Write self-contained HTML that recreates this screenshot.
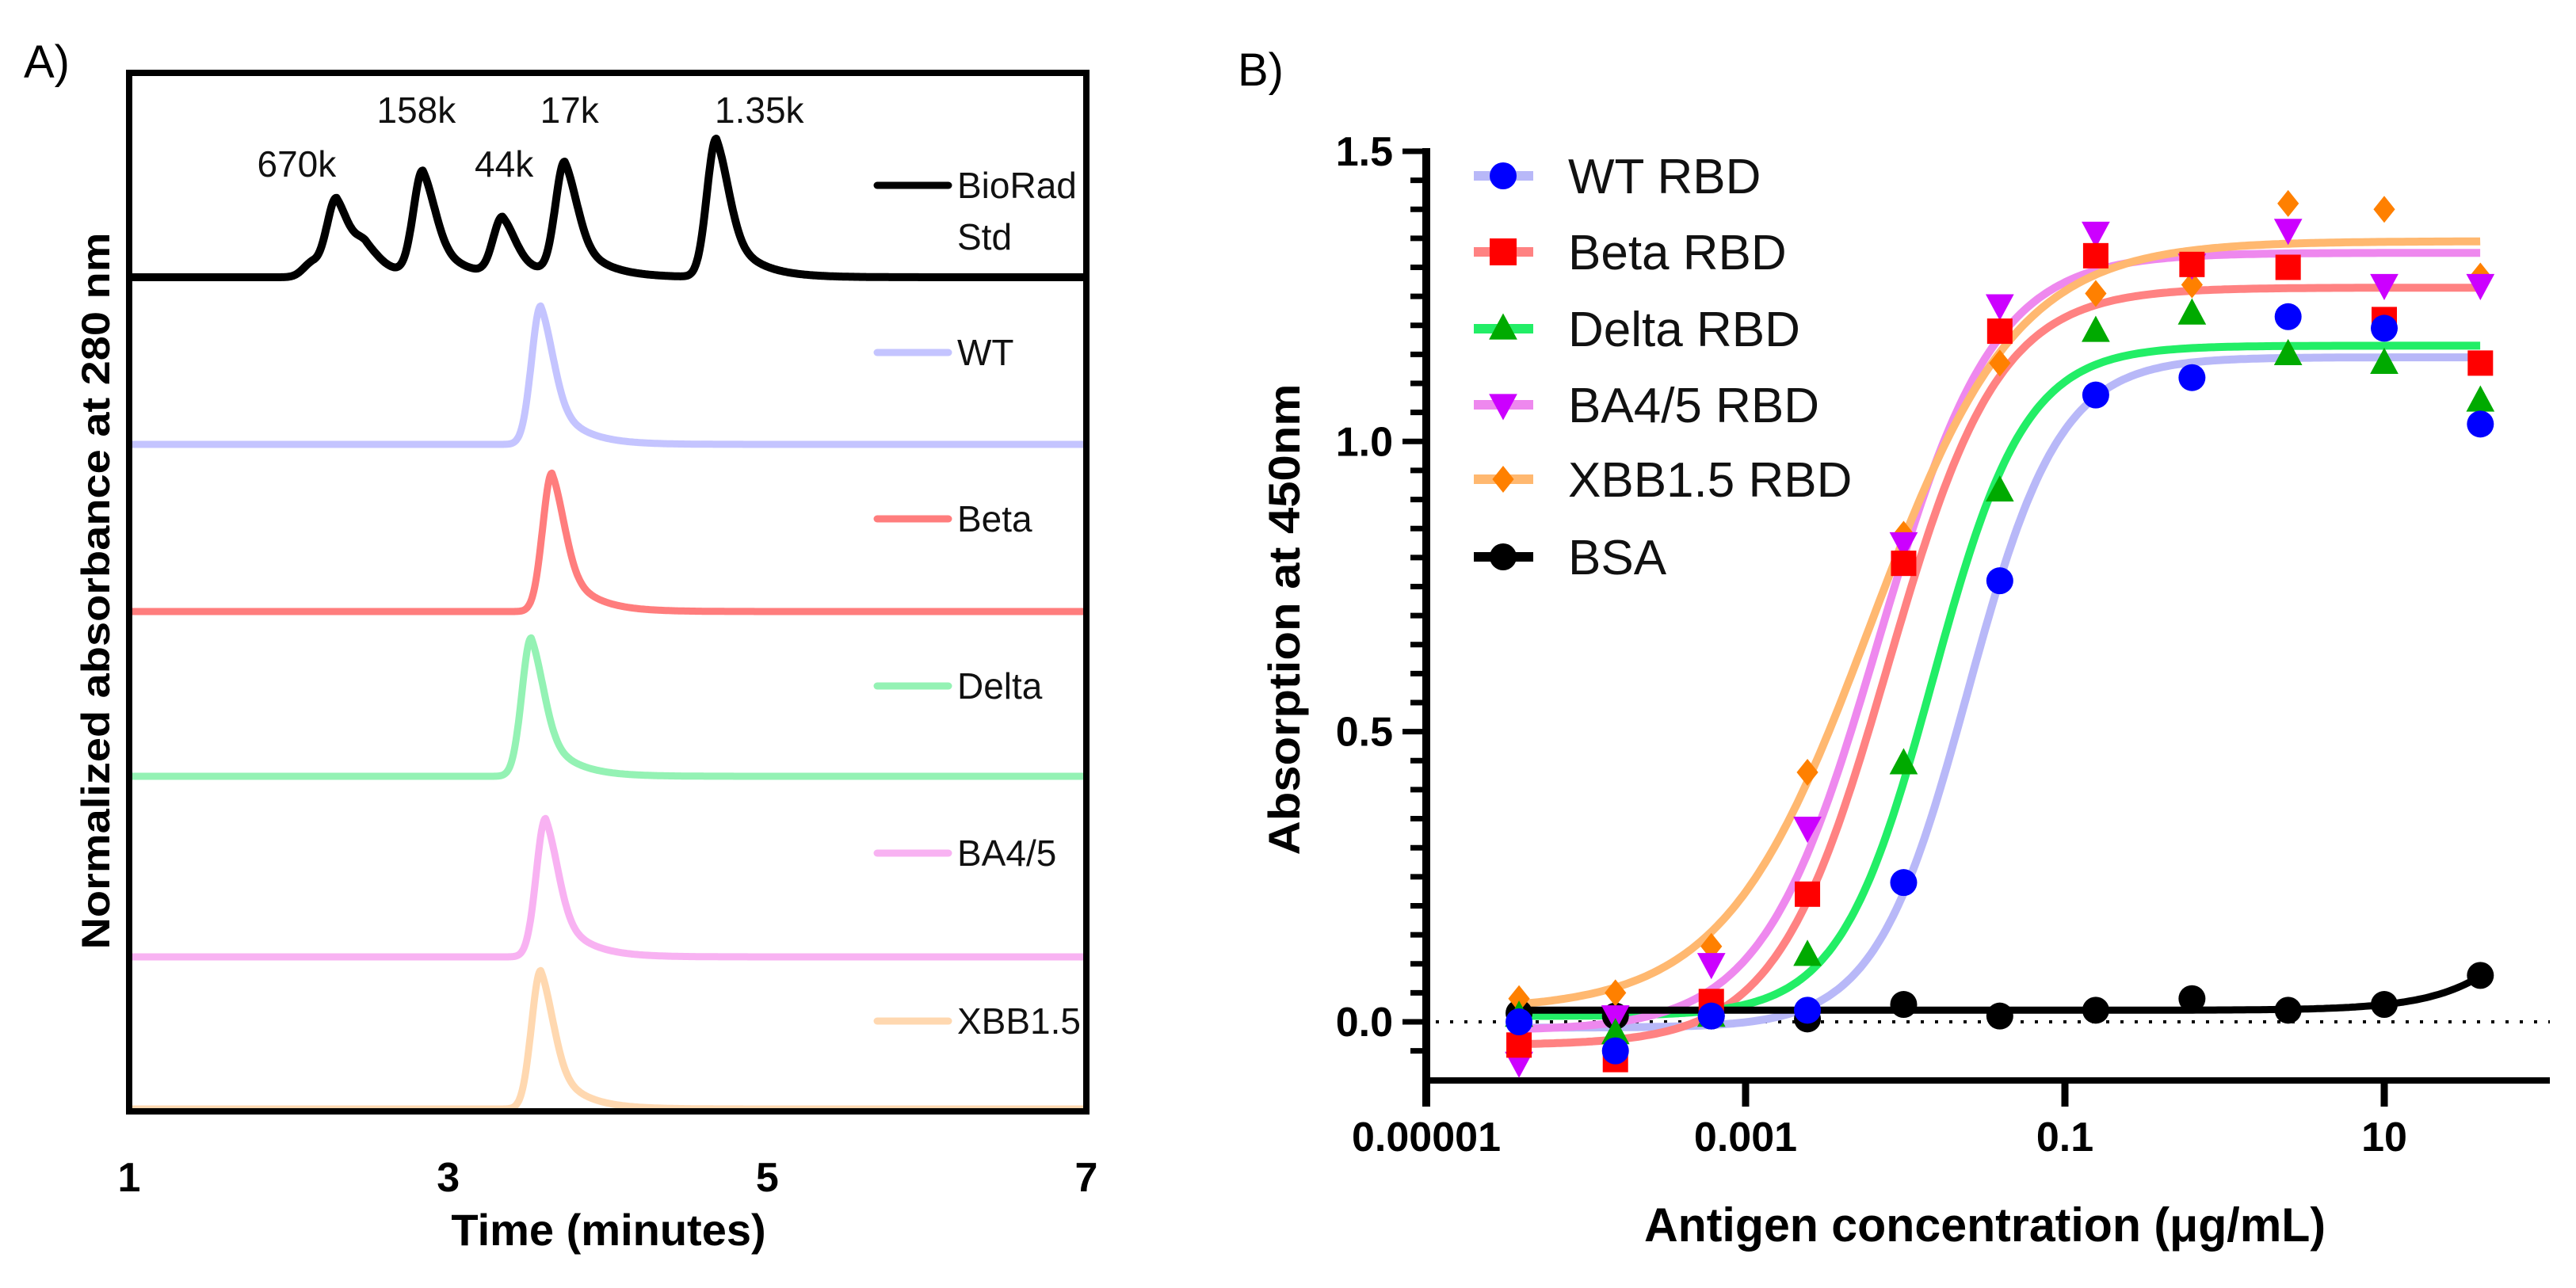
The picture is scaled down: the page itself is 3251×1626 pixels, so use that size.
<!DOCTYPE html>
<html><head><meta charset="utf-8">
<style>
html,body{margin:0;padding:0;background:#fff;}
svg{display:block;font-family:"Liberation Sans",sans-serif;}
</style></head>
<body>
<svg id="fig" width="3251" height="1626" viewBox="0 0 3251 1626" xmlns="http://www.w3.org/2000/svg">
<g id="panelA"></g>
<g id="panelB"></g>
</svg>
<script>
// ---------- Panel A data ----------
const traceNames = ["BioRad Std","WT","Beta","Delta","BA4/5","XBB1.5"];
const traceColors = ["#000000","#c4c4ff","#ff7d7d","#94f2b4","#f8b2f2","#ffd8b0"];
const traceBaselines = [350,561,772,980,1208,1400];
// peak times (minutes) and relative heights per trace
const peakTimesStd = [2.15,2.30,2.48,2.84,3.34,3.73,4.68];
const peakHeightsStd = [0.10,0.52,0.14,0.72,0.40,0.78,0.96];
const peakTimesSample = [3.58,3.65,3.52,3.61,3.58];
const peakHeightsSample = [0.96,0.96,0.96,0.96,0.96];
const stdLabels = ["670k","158k","44k","17k","1.35k"];
const stdLabelTimes = [2.05,2.80,3.35,3.76,4.95];
const stdLabelRows = [0,1,0,1,1];
const timeTicks = [1,3,5,7];

// ---------- Panel B data ----------
const concentrations = [0.0000381,0.000153,0.00061,0.00244,0.00977,0.0391,0.156,0.625,2.5,10,40];
const seriesNames = ["WT  RBD","Beta RBD","Delta RBD","BA4/5 RBD","XBB1.5 RBD","BSA"];
const wtValues = [0.00,-0.05,0.01,0.02,0.24,0.76,1.08,1.11,1.215,1.195,1.03];
const betaValues = [-0.04,-0.065,0.035,0.22,0.79,1.19,1.32,1.305,1.30,1.21,1.135];
const deltaValues = [0.01,-0.02,0.01,0.115,0.445,0.915,1.19,1.22,1.15,1.135,1.07];
const baValues = [-0.07,0.01,0.10,0.335,0.825,1.235,1.36,1.305,1.365,1.27,1.27];
const xbbValues = [0.04,0.05,0.13,0.43,0.84,1.135,1.255,1.27,1.41,1.40,1.285];
const bsaValues = [0.015,0.01,0.01,0.005,0.03,0.01,0.02,0.04,0.02,0.03,0.08];
// 4PL fit parameters: bottom, top, logEC50, hill
const fitBottom = [-0.01,-0.04,0.01,-0.015,0.02,0.02];
const fitTop = [1.145,1.265,1.165,1.325,1.345,1.0];
const fitLogEC50 = [-1.61,-2.11,-1.83,-2.17,-2.22,2.5];
const fitHill = [1.5,1.25,1.5,1.2,0.95,1.33];
const yTicks = [0.0,0.5,1.0,1.5];
const yTickLabels = ["0.0","0.5","1.0","1.5"];
const xTickDecades = [-5,-3,-1,1];
const xTickLabels = ["0.00001","0.001","0.1","10"];

const NS="http://www.w3.org/2000/svg";
function mk(tag,attrs,parent,text){const e=document.createElementNS(NS,tag);for(const k in attrs)e.setAttribute(k,attrs[k]);if(text!==undefined)e.textContent=text;parent.appendChild(e);return e;}

// ================= PANEL A =================
const A=document.getElementById('panelA');
const aL=163,aR=1371,aT=92,aB=1403;
const tx=t=>aL+(t-1)*(aR-aL)/6;
const peakAmp=182;
function shape(t,p){const d=t-p;if(d<0)return Math.exp(-0.5*(d/0.058)**2);return 0.5*Math.exp(-0.5*(d/0.08)**2)+0.5*Math.exp(-d/0.17);}
function drawTrace(i,times,heights){
  let pts=[];
  for(let t=1;t<=7.0001;t+=0.005){let v=0;for(let k=0;k<times.length;k++)v+=heights[k]*shape(t,times[k]);pts.push(tx(t).toFixed(1)+","+(traceBaselines[i]-v*peakAmp).toFixed(1));}
  const p=mk('polyline',{points:pts.join(" "),fill:"none",stroke:traceColors[i],"stroke-width":i===0?10:9,"stroke-linejoin":"round"},A);
  
  
}
drawTrace(0,peakTimesStd,peakHeightsStd);
for(let i=1;i<6;i++)drawTrace(i,[peakTimesSample[i-1]],[peakHeightsSample[i-1]]);
// frame
const fr=mk('rect',{x:aL,y:aT,width:aR-aL,height:aB-aT,fill:"none",stroke:"#000","stroke-width":8},A);


// std peak labels
for(let k=0;k<stdLabels.length;k++){
  const el=mk('text',{x:tx(stdLabelTimes[k]),y:stdLabelRows[k]?155:223,"font-size":46,"text-anchor":"middle",fill:"#111"},A,stdLabels[k]);
  
  
}
// legend A
const legY=[234,445,655,866,1077,1289];
for(let i=0;i<6;i++){
  const ln=mk('line',{x1:1107,x2:1197,y1:legY[i],y2:legY[i],stroke:traceColors[i],"stroke-width":9,"stroke-linecap":"round"},A);
  
  
  const label=i===0?"BioRad":traceNames[i];
  const tt=mk('text',{x:1208,y:legY[i]+16,"font-size":46,fill:"#111"},A,label);
  
  
}
const std=mk('text',{x:1208,y:315,"font-size":46,fill:"#111"},A,"Std");


// ticks A
for(const t of timeTicks){
  const el=mk('text',{x:tx(t),y:1504,"font-size":52,"font-weight":"bold","text-anchor":"middle"},A,String(t));
  
  
}
const axt=mk('text',{x:768,y:1572,"font-size":56,"font-weight":"bold","text-anchor":"middle"},A,"Time (minutes)");


const ayt=mk('text',{x:0,y:0,"font-size":50,"font-weight":"bold","text-anchor":"middle",transform:"translate(138,746) rotate(-90)",textLength:905,lengthAdjust:"spacingAndGlyphs"},A,"Normalized absorbance at 280 nm");


const la=mk('text',{x:30,y:98,"font-size":58},A,"A)");



// ================= PANEL B =================
const B=document.getElementById('panelB');
const bx=c=>1800+(Math.log10(c)+5)*201.5;
const bxl=l=>1800+(l+5)*201.5;
const by=v=>1290-v*732.7;
// axes
const ya=mk('line',{x1:1800,x2:1800,y1:187,y2:1397,stroke:"#000","stroke-width":10},B);


const xa=mk('line',{x1:1795,x2:3218,y1:1364,y2:1364,stroke:"#000","stroke-width":8},B);


for(let v=-0.05;v<=1.5001;v+=0.05){
  const major=Math.abs(v*2-Math.round(v*2))<1e-6;
  const tk=mk('line',{x1:major?1770:1780,x2:1800,y1:by(v),y2:by(v),stroke:"#000","stroke-width":7},B);
  
  
}
for(let i=0;i<yTicks.length;i++){
  const el=mk('text',{x:1758,y:by(yTicks[i])+18,"font-size":52,"font-weight":"bold","text-anchor":"end"},B,yTickLabels[i]);
  
  
}
for(let i=0;i<xTickDecades.length;i++){
  const tk=mk('line',{x1:bxl(xTickDecades[i]),x2:bxl(xTickDecades[i]),y1:1364,y2:1397,stroke:"#000","stroke-width":9},B);
  
  
  const el=mk('text',{x:bxl(xTickDecades[i]),y:1453,"font-size":52,"font-weight":"bold","text-anchor":"middle"},B,xTickLabels[i]);
  
  
}
const zl=mk('line',{x1:1812,x2:3218,y1:by(0),y2:by(0),stroke:"#000","stroke-width":4,"stroke-dasharray":"4 14"},B);



const allValues=[wtValues,betaValues,deltaValues,baValues,xbbValues,bsaValues];
const lineColors=["#b8b8f8","#ff8282","#22ee66","#ee88ee","#ffb870","#000000"];
const markColors=["#0000ff","#ff0000","#00aa00","#cc00ff","#ff8000","#000000"];
const markShapes=["circle","square","up","down","diamond","circle"];
function drawMarker(shapeName,cx,cy,color,parent,s){
  let el;
  if(shapeName==="circle")el=mk('circle',{cx:cx,cy:cy,r:s,fill:color},parent);
  else if(shapeName==="square")el=mk('rect',{x:cx-s,y:cy-s,width:2*s,height:2*s,fill:color},parent);
  else if(shapeName==="up")el=mk('polygon',{points:`${cx},${cy-s*1.15} ${cx-s*1.05},${cy+s*0.8} ${cx+s*1.05},${cy+s*0.8}`,fill:color},parent);
  else if(shapeName==="down")el=mk('polygon',{points:`${cx},${cy+s*1.15} ${cx-s*1.05},${cy-s*0.8} ${cx+s*1.05},${cy-s*0.8}`,fill:color},parent);
  else el=mk('polygon',{points:`${cx},${cy-s} ${cx+s*0.8},${cy} ${cx},${cy+s} ${cx-s*0.8},${cy}`,fill:color},parent);
  return el;
}
// curves
for(let i=0;i<6;i++){
  let pts=[];
  for(let l=Math.log10(concentrations[0]);l<=Math.log10(concentrations[10])+1e-9;l+=0.02){
    const v=fitBottom[i]+(fitTop[i]-fitBottom[i])/(1+Math.pow(10,fitHill[i]*(fitLogEC50[i]-l)));
    pts.push(bxl(l).toFixed(1)+","+by(v).toFixed(1));
  }
  const p=mk('polyline',{points:pts.join(" "),fill:"none",stroke:lineColors[i],"stroke-width":i===5?9:10,"stroke-linejoin":"round"},B);
  
  
}
// points (BSA first, others on top)
const order=[5,4,3,2,1,0];
for(const i of order){
  for(let k=0;k<concentrations.length;k++){
    const s=markShapes[i]==="square"?16:17;
    const m=drawMarker(markShapes[i],bx(concentrations[k]),by(allValues[i][k]),markColors[i],B,s);
    
    
  }
}
// legend B
const legBY=[222,318,415,511,605,703];
for(let i=0;i<6;i++){
  const ln=mk('line',{x1:1860,x2:1935,y1:legBY[i],y2:legBY[i],stroke:lineColors[i],"stroke-width":12},B);
  
  
  const m=drawMarker(markShapes[i],1897,legBY[i],markColors[i],B,17);
  
  
  const t=mk('text',{x:1979,y:legBY[i]+22,"font-size":62,fill:"#111"},B,seriesNames[i]);
  
  
}
const bxt=mk('text',{x:2505,y:1567,"font-size":60,"font-weight":"bold","text-anchor":"middle",textLength:860,lengthAdjust:"spacingAndGlyphs"},B,"Antigen concentration (μg/mL)");


const byt=mk('text',{x:0,y:0,"font-size":56,"font-weight":"bold","text-anchor":"middle",transform:"translate(1640,782) rotate(-90)",textLength:595,lengthAdjust:"spacingAndGlyphs"},B,"Absorption at 450nm");


const lb=mk('text',{x:1562,y:108,"font-size":58},B,"B)");


</script>
</body></html>
